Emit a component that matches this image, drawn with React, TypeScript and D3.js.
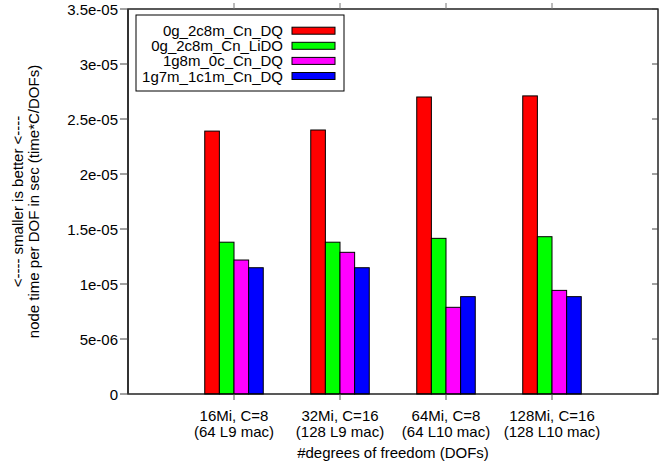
import React, { useEffect, useRef } from 'react';
import * as d3 from 'd3';

const categories = [
  ['16Mi, C=8', '(64 L9 mac)'],
  ['32Mi, C=16', '(128 L9 mac)'],
  ['64Mi, C=8', '(64 L10 mac)'],
  ['128Mi, C=16', '(128 L10 mac)'],
];
const seriesNames = ['0g_2c8m_Cn_DQ', '0g_2c8m_Cn_LiDO', '1g8m_0c_Cn_DQ', '1g7m_1c1m_Cn_DQ'];
const seriesColors = ['#ff0000', '#00ff00', '#ff00ff', '#0000ff'];
const dq2c8m = [2.39e-5, 2.4e-5, 2.7e-5, 2.71e-5];
const lido2c8m = [1.38e-5, 1.38e-5, 1.415e-5, 1.43e-5];
const dq1g8m = [1.218e-5, 1.288e-5, 7.88e-6, 9.42e-6];
const dq1g7m = [1.148e-5, 1.148e-5, 8.85e-6, 8.85e-6];
const yTicks = [0, 5e-6, 1e-5, 1.5e-5, 2e-5, 2.5e-5, 3e-5, 3.5e-5];
const yTickLabels = ['0', '5e-06', '1e-05', '1.5e-05', '2e-05', '2.5e-05', '3e-05', '3.5e-05'];

const W = 665;
const H = 471;
const FONT = '"Liberation Sans", Arial, sans-serif';

function App() {
  const ref = useRef(null);

  useEffect(() => {
    const svg = d3.select(ref.current);
    svg.selectAll('*').remove();

    const left = 128, right = 658, top = 9, bottom = 394;
    const x = d3.scaleLinear().domain([-1, 4]).range([left, right]);
    const y = d3.scaleLinear().domain([0, 3.5e-5]).range([bottom, top]);
    const series = [dq2c8m, lido2c8m, dq1g8m, dq1g7m];
    const barW = 0.138;

    // bars
    series.forEach((vals, s) => {
      svg.append('g')
        .selectAll('rect')
        .data(vals)
        .enter()
        .append('rect')
        .attr('x', (d, i) => x(i + (s - 2) * barW))
        .attr('y', (d) => y(d))
        .attr('width', x(barW) - x(0))
        .attr('height', (d) => y(0) - y(d))
        .attr('fill', seriesColors[s])
        .attr('stroke', '#000')
        .attr('stroke-width', 1);
    });

    // border
    svg.append('rect')
      .attr('x', left).attr('y', top)
      .attr('width', right - left).attr('height', bottom - top)
      .attr('fill', 'none').attr('stroke', '#000').attr('stroke-width', 1.3);
    svg.append('line')
      .attr('x1', left).attr('x2', left).attr('y1', top).attr('y2', bottom)
      .attr('stroke', '#333').attr('stroke-width', 2);

    // y ticks
    const yt = svg.append('g');
    yTicks.forEach((t, i) => {
      yt.append('line').attr('x1', left - 8).attr('x2', left).attr('y1', y(t)).attr('y2', y(t))
        .attr('stroke', '#444').attr('stroke-width', 1);
      yt.append('line').attr('x1', right - 6).attr('x2', right).attr('y1', y(t)).attr('y2', y(t))
        .attr('stroke', '#444').attr('stroke-width', 1);
      yt.append('text')
        .attr('x', 118).attr('y', y(t))
        .attr('text-anchor', 'end').attr('dominant-baseline', 'central')
        .attr('font-family', FONT).attr('font-size', 15)
        .text(yTickLabels[i]);
    });

    // x ticks
    const xt = svg.append('g');
    categories.forEach((c, i) => {
      xt.append('line').attr('x1', x(i)).attr('x2', x(i)).attr('y1', bottom).attr('y2', bottom + 6)
        .attr('stroke', '#555').attr('stroke-width', 1);
      xt.append('line').attr('x1', x(i)).attr('x2', x(i)).attr('y1', top - 6).attr('y2', top)
        .attr('stroke', '#777').attr('stroke-width', 1);
      c.forEach((line, k) => {
        xt.append('text')
          .attr('x', x(i)).attr('y', 415 + k * 16.7)
          .attr('text-anchor', 'middle').attr('dominant-baseline', 'central')
          .attr('font-family', FONT).attr('font-size', 15)
          .text(line);
      });
    });

    // axis titles
    svg.append('text')
      .attr('x', (left + right) / 2).attr('y', 452)
      .attr('text-anchor', 'middle').attr('dominant-baseline', 'central')
      .attr('font-family', FONT).attr('font-size', 15)
      .text('#degrees of freedom (DOFs)');
    const yLabels = ['<---- smaller is better <----', 'node time per DOF in sec (time*C/DOFs)'];
    yLabels.forEach((t, k) => {
      svg.append('text')
        .attr('transform', `translate(${17 + k * 16},${(top + bottom) / 2}) rotate(-90)`)
        .attr('text-anchor', 'middle').attr('dominant-baseline', 'central')
        .attr('font-family', FONT).attr('font-size', 15)
        .text(t);
    });

    // legend
    const lg = svg.append('g');
    lg.append('rect')
      .attr('x', 136).attr('y', 15).attr('width', 208).attr('height', 76)
      .attr('fill', '#fff').attr('stroke', '#000').attr('stroke-width', 1);
    seriesNames.forEach((name, s) => {
      const cy = 30.7 + s * 15.1;
      lg.append('text')
        .attr('x', 283).attr('y', cy)
        .attr('text-anchor', 'end').attr('dominant-baseline', 'central')
        .attr('font-family', FONT).attr('font-size', 15)
        .text(name);
      lg.append('rect')
        .attr('x', 292).attr('y', cy - 3.5).attr('width', 43).attr('height', 7)
        .attr('fill', seriesColors[s]).attr('stroke', '#000').attr('stroke-width', 1);
    });
  }, []);

  return (
    <svg ref={ref} width={W} height={H} style={{ position: 'absolute', left: 0, top: 0, background: '#fff' }} />
  );
}

export default App;
